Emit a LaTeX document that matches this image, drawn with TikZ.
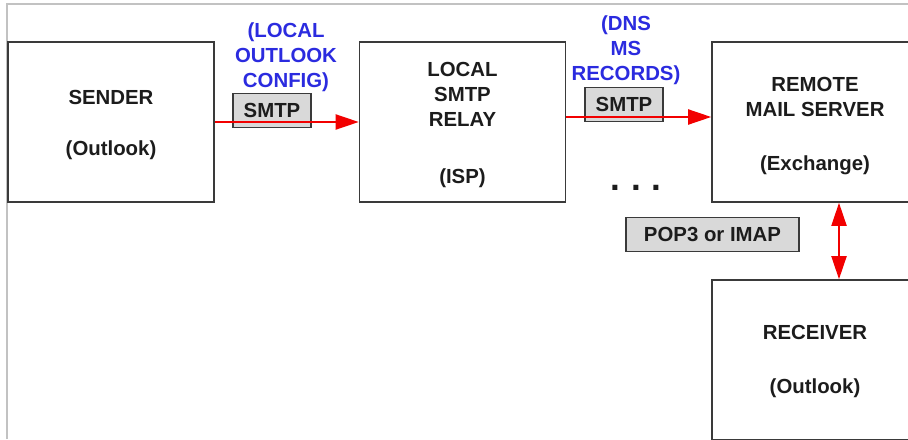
\documentclass[tikz,border=0pt]{standalone}
\usepackage{fontspec}
\setmainfont{Liberation Sans}
\usetikzlibrary{arrows.meta}

\definecolor{boxline}{HTML}{3A3A3A}
\definecolor{protofill}{HTML}{D9D9D9}
\definecolor{flowred}{HTML}{F20000}
\definecolor{noteblue}{HTML}{2B2BDF}
\definecolor{framegray}{HTML}{C2C2C2}
\definecolor{inktext}{HTML}{1C1C1C}

\tikzset{
  hostbox/.style={draw=boxline, line width=0.9pt, align=center,
    minimum width=4.12cm, minimum height=3.2cm, inner sep=0pt},
  protobox/.style={draw=boxline, line width=0.8pt, fill=protofill,
    minimum height=0.68cm, inner sep=0pt},
  note/.style={text=noteblue, align=center},
  flow/.style={draw=flowred, line width=1.1pt,
    -{Triangle[length=0.46cm,width=0.3cm]}},
  flowboth/.style={draw=flowred, line width=1.1pt,
    {Triangle[length=0.46cm,width=0.3cm]}-{Triangle[length=0.46cm,width=0.3cm]}}
}

\begin{document}
\begin{tikzpicture}[x=0.02cm, y=-0.02cm, text=inktext,
    font=\fontsize{11.6}{14.2}\selectfont\bfseries]
            \useasboundingbox (0,0) rectangle (908,439);
            \clip (0,0) rectangle (908,439);
            \draw[color=framegray, line width=1.2pt] (7,439) -- (7,4) -- (908,4);

            % the rule at the start pushes the lines down a little
            \node[hostbox] (sender) at (111,122) {\rule{0pt}{12pt}SENDER\\[0.52cm](Outlook)};
            \node[hostbox] (relay) at (462.5,122) {\rule{0pt}{11.4pt}LOCAL\\SMTP\\RELAY\\[0.65cm](ISP)};
            \node[hostbox] (remote) at (815,122) {\rule{0pt}{12.5pt}REMOTE\\MAIL SERVER\\[0.59cm](Exchange)};
            \node[hostbox] (receiver) at (815,360) {\rule{0pt}{10.2pt}RECEIVER\\[0.58cm](Outlook)};

            \node[protobox, minimum width=1.56cm] (smtpa) at (272,110.5) {SMTP};
            \node[protobox, minimum width=1.56cm] (smtpb) at (624,104.5) {SMTP};
            \node[protobox, minimum width=3.46cm] (pop) at (712.5,234.5) {POP3 or IMAP};

            \draw[flow] (sender.east) -- (relay.west);
            \draw[flow] ([yshift=0.1cm]relay.east) -- ([yshift=0.1cm]remote.west);
            \draw[flowboth] ([xshift=0.48cm]remote.south) -- ([xshift=0.48cm]receiver.north);

            \node[note] (cfgnote) at (286,57) {(LOCAL\\OUTLOOK\\CONFIG)};
            \node[note] (dnsnote) at (626,50) {(DNS\\MS\\RECORDS)};
            \node[font=\fontsize{20}{20}\selectfont\bfseries] (more) at (636,188) {.\hspace{0.22cm}.\hspace{0.22cm}.};
          \end{tikzpicture}
\end{document}
